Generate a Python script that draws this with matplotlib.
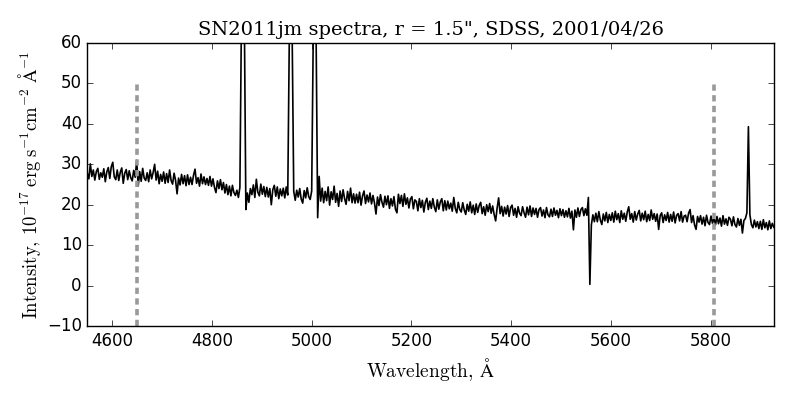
import numpy as np
import matplotlib
matplotlib.use("Agg")
import matplotlib.pyplot as plt

plt.style.use('classic')
plt.rcParams['mathtext.fontset'] = 'cm'
plt.rcParams['lines.scale_dashes'] = False

# Wavelength grid (Angstrom): start and step of the spectrum sampling
wave_start = 4550
wave_step = 3

flux = [
    27.8, 26.4, 30.1, 27.0, 28.6, 26.1, 28.2, 29.0, 26.3, 27.9,
    26.8, 28.9, 25.7, 28.1, 29.2, 26.5, 29.4, 30.5, 26.9, 26.2,
    28.6, 26.0, 28.0, 29.1, 25.3, 27.8, 28.7, 26.2, 28.4, 26.7,
    25.9, 28.5, 26.8, 31.0, 24.6, 28.2, 25.8, 29.0, 26.6, 26.0,
    27.9, 25.7, 28.6, 26.4, 28.0, 30.0, 26.1, 28.3, 25.2, 27.5,
    25.8, 28.1, 25.3, 27.7, 25.5, 28.6, 26.0, 25.1, 27.8, 26.0,
    22.7, 26.6, 24.9, 27.5, 25.2, 27.2, 24.7, 27.4, 25.0, 26.8,
    25.0, 27.3, 28.8, 25.3, 26.7, 24.6, 27.6, 25.2, 26.9, 25.0,
    26.5, 24.8, 27.0, 24.6, 26.4, 24.3, 23.0, 25.9, 24.0, 26.2,
    23.7, 25.5, 22.9, 25.0, 22.5, 24.6, 22.2, 24.8, 23.0, 22.3,
    23.6, 21.8, 24.3, 65.0, 200.0, 65.0, 18.8, 22.9, 20.6, 24.0,
    22.5, 24.9, 21.8, 26.3, 23.1, 22.2, 25.1, 22.6, 24.5, 22.0,
    24.3, 21.9, 24.0, 20.0, 23.7, 24.8, 22.1, 24.4, 21.5, 23.9,
    22.2, 24.1, 21.7, 24.4, 22.4, 60.0, 180.0, 60.0, 23.3, 21.1,
    23.6, 21.9, 24.0, 21.4, 20.4, 23.5, 21.7, 24.2, 22.0, 21.3,
    23.4, 60.0, 300.0, 60.0, 16.8, 27.0, 20.9, 24.1, 20.5, 23.3,
    21.0, 24.4, 19.9, 23.2, 21.3, 24.6, 20.6, 22.8, 19.6, 23.4,
    20.8, 23.7, 21.5, 20.1, 23.3, 21.0, 24.1, 20.5, 22.7, 20.4,
    22.6, 20.5, 23.1, 19.9, 22.2, 23.4, 20.3, 22.4, 20.7, 22.9,
    20.2, 22.3, 20.4, 17.7, 21.9, 19.8, 22.5, 20.6, 19.4, 22.1,
    20.0, 22.2, 19.1, 21.5, 19.7, 22.0, 18.9, 18.0, 22.6, 20.3,
    22.3, 19.6, 22.7, 20.1, 21.7, 19.2, 21.4, 22.0, 19.0, 21.2,
    20.8, 18.5, 21.5, 19.3, 21.1, 18.2, 20.6, 21.6, 18.8, 20.9,
    19.1, 21.5, 19.4, 18.3, 21.2, 18.9, 20.7, 21.5, 18.5, 21.0,
    18.7, 20.9, 19.0, 20.4, 18.4, 21.8, 19.1, 18.0, 20.6, 18.8,
    18.2, 20.5, 18.7, 17.6, 20.1, 18.4, 20.7, 18.0, 19.9, 17.6,
    20.2, 18.1, 19.8, 20.6, 17.8, 19.5, 17.4, 20.0, 18.3, 20.3,
    17.9, 19.7, 17.6, 16.0, 19.2, 21.7, 17.8, 19.6, 17.2, 19.4,
    17.7, 19.8, 17.1, 19.3, 19.9, 17.4, 19.1, 16.9, 19.5, 17.9,
    17.3, 19.5, 18.0, 16.9, 19.4, 17.5, 19.7, 17.1, 19.2, 17.6,
    19.1, 16.9, 18.8, 19.3, 17.2, 18.7, 16.8, 19.3, 17.5, 17.0,
    18.9, 17.1, 19.2, 17.4, 18.6, 16.8, 19.0, 17.3, 18.8, 16.9,
    18.5, 17.0, 19.1, 16.7, 18.4, 13.8, 18.7, 16.9, 19.2, 17.1,
    18.8, 19.3, 17.3, 19.0, 17.4, 21.8, 0.3, 15.0, 17.5, 15.8,
    17.9, 15.8, 18.3, 16.2, 15.1, 17.7, 16.0, 18.1, 15.6, 17.6,
    16.1, 18.0, 15.7, 18.4, 16.3, 17.8, 15.6, 18.5, 16.4, 17.9,
    15.9, 18.2, 19.5, 16.4, 17.8, 15.7, 18.3, 16.2, 17.7, 18.6,
    16.0, 17.9, 16.3, 18.4, 15.8, 17.6, 16.1, 18.7, 16.4, 17.8,
    15.9, 17.7, 13.9, 17.3, 18.0, 15.6, 17.5, 16.1, 18.1, 15.7,
    17.6, 15.9, 18.2, 15.5, 17.4, 17.8, 16.0, 18.3, 15.7, 17.2,
    17.4, 15.8, 17.9, 18.8, 15.6, 17.3, 15.0, 13.9, 17.1, 15.7,
    17.3, 15.2, 16.9, 14.8, 17.4, 15.6, 15.1, 17.2, 15.4, 16.8,
    15.0, 17.1, 15.3, 16.7, 14.7, 17.3, 15.2, 16.5, 14.9, 16.9,
    16.4, 14.8, 17.0, 15.1, 14.5, 16.6, 14.9, 16.4, 13.0, 16.1,
    16.6, 18.0, 39.3, 17.5, 15.1, 14.3, 16.2, 14.5, 15.8, 14.1,
    15.9, 13.9, 16.3, 14.3, 15.6, 13.8, 16.0, 14.1, 15.4, 14.4,
]
wavelength = wave_start + wave_step * np.arange(len(flux))

# Marker wavelengths (dashed vertical lines) and their extent
marker_waves = [4650, 5806]
marker_ymin, marker_ymax = -10, 50

fig = plt.figure(figsize=(7.89, 3.95), dpi=100, facecolor='white')
ax = fig.add_axes([0.1107, 0.1747, 0.8707, 0.7163])
ax.set_facecolor('white')

ax.plot(wavelength, flux, color='black', lw=1.2)
for mw in marker_waves:
    ax.plot([mw, mw], [marker_ymin, marker_ymax], color='#999999', lw=2.6,
            linestyle=(0, (4.5, 3.2)))

ax.set_xlim(4550, 5928)
ax.set_ylim(-10, 60)
ax.set_xticks([4600, 4800, 5000, 5200, 5400, 5600, 5800])
ax.set_yticks([-10, 0, 10, 20, 30, 40, 50, 60])
ax.tick_params(labelsize=12)

ax.set_title('SN2011jm spectra, r = 1.5", SDSS, 2001/04/26',
             family='DejaVu Serif', fontsize=14, pad=6)
ax.set_xlabel(r'$\mathrm{Wavelength,\,\AA}$', fontsize=14)
ax.set_ylabel(r'$\mathrm{Intensity,}\,10^{-17}\;\mathrm{erg\;s^{-1}cm^{-2}\;\AA^{-1}}$',
              fontsize=13.5, labelpad=3)

fig.savefig('out.png', dpi=100, facecolor='white')
